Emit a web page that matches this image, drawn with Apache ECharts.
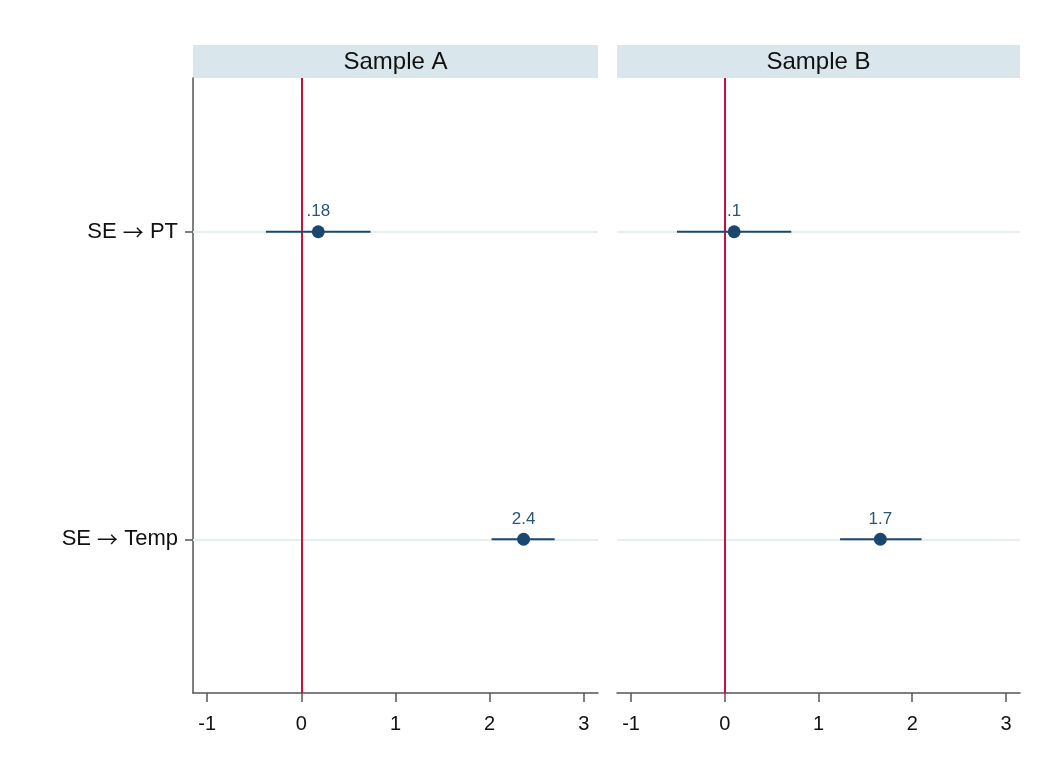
<!DOCTYPE html>
<html>
<head>
<meta charset="utf-8">
<script src="https://cdn.jsdelivr.net/npm/echarts@6/dist/echarts.min.js"></script>
<style>
html,body{margin:0;padding:0;background:#fff;}
#chart{width:1041px;height:765px;}
</style>
</head>
<body>
<div id="chart"></div>
<script>
// ---- data ----
const categories = ['SE \u2192 PT', 'SE \u2192 Temp'];
const panels = ['Sample A', 'Sample B'];
const estA = [0.18, 2.36];
const lowA = [-0.375, 2.02];
const highA = [0.735, 2.69];
const labelA = ['.18', '2.4'];
const estB = [0.10, 1.66];
const lowB = [-0.51, 1.23];
const highB = [0.71, 2.10];
const labelB = ['.1', '1.7'];
const xTicks = [-1, 0, 1, 2, 3];
const xMin = -1.15, xMax = 3.15;

const FONT = "'Liberation Sans', Arial, Helvetica, sans-serif";
const NAVY = '#1a476f';
const RED = '#c8103c';
const AXIS = '#555555';
const REF = '#e6eef0';

const grids = [
  {left: 193, top: 78, width: 405, height: 615},
  {left: 617, top: 78, width: 403, height: 615}
];

function xAxisFor(i) {
  return {
    type: 'value', gridIndex: i, min: xMin, max: xMax,
    axisLine: {show: true, onZero: false, lineStyle: {color: AXIS, width: 1.5}},
    axisTick: {show: true, length: 9, customValues: xTicks, lineStyle: {color: AXIS, width: 1.5}},
    axisLabel: {show: true, customValues: xTicks, margin: 21, color: '#111', fontSize: 20, fontFamily: FONT,
      formatter: v => String(v)},
    splitLine: {show: false}
  };
}
function yAxisFor(i) {
  return {
    type: 'category', gridIndex: i, data: categories, inverse: true,
    axisLine: {show: i === 0, onZero: false, lineStyle: {color: AXIS, width: 1.5}},
    axisTick: {show: i === 0, length: 8, alignWithLabel: true, lineStyle: {color: AXIS, width: 1.5}},
    axisLabel: {show: i === 0, margin: 15, color: '#111', fontSize: 22, fontFamily: FONT,
      formatter: v => v.replace('\u2192', '{a|\u2192}'),
      rich: {a: {fontFamily: "'Noto Sans CJK SC', 'DejaVu Sans', sans-serif", fontSize: 21, color: '#111'}}},
    splitLine: {show: false}
  };
}

function panelSeries(i, est, low, high, labels) {
  return [
    { // horizontal reference lines
      type: 'scatter', xAxisIndex: i, yAxisIndex: i, data: [], z: 1, silent: true,
      markLine: {silent: true, z: 1, symbol: 'none', label: {show: false}, animation: false,
        lineStyle: {color: REF, width: 2, type: 'solid'},
        data: categories.map(c => ({yAxis: c}))}
    },
    { // zero line
      type: 'scatter', xAxisIndex: i, yAxisIndex: i, data: [], z: 2, silent: true,
      markLine: {silent: true, z: 2, symbol: 'none', label: {show: false}, animation: false,
        lineStyle: {color: RED, width: 2, type: 'solid'},
        data: [{xAxis: 0}]}
    },
    { // CI lines
      type: 'custom', xAxisIndex: i, yAxisIndex: i, z: 3, silent: true,
      data: categories.map((c, k) => [low[k], high[k], k]),
      renderItem: function (params, api) {
        const a = api.coord([api.value(0), api.value(2)]);
        const b = api.coord([api.value(1), api.value(2)]);
        return {type: 'line', shape: {x1: a[0], y1: a[1], x2: b[0], y2: b[1]},
          style: {stroke: NAVY, lineWidth: 2}};
      }
    },
    { // point estimates
      type: 'scatter', xAxisIndex: i, yAxisIndex: i, z: 4, silent: true,
      symbol: 'circle', symbolSize: 13,
      itemStyle: {color: NAVY, opacity: 1},
      data: categories.map((c, k) => [est[k], c]),
      label: {show: true, position: 'top', distance: 5, color: '#2b5478', fontSize: 17, fontFamily: FONT,
        formatter: p => labels[p.dataIndex]}
    }
  ];
}

const graphics = [];
panels.forEach((name, i) => {
  const g = grids[i];
  graphics.push({type: 'rect', left: g.left, top: 45, shape: {width: g.width, height: 33},
    style: {fill: '#d9e6eb'}, silent: true});
  graphics.push({type: 'text', x: g.left + g.width / 2, y: 62,
    style: {text: name, fill: '#111', font: '24px ' + FONT, textAlign: 'center', textVerticalAlign: 'middle'},
    silent: true});
});

const chart = echarts.init(document.getElementById('chart'), null, {renderer: 'canvas'});
chart.setOption({
  animation: false,
  backgroundColor: '#ffffff',
  grid: grids,
  xAxis: [xAxisFor(0), xAxisFor(1)],
  yAxis: [yAxisFor(0), yAxisFor(1)],
  series: [].concat(panelSeries(0, estA, lowA, highA, labelA), panelSeries(1, estB, lowB, highB, labelB)),
  graphic: graphics
});
</script>
</body>
</html>
